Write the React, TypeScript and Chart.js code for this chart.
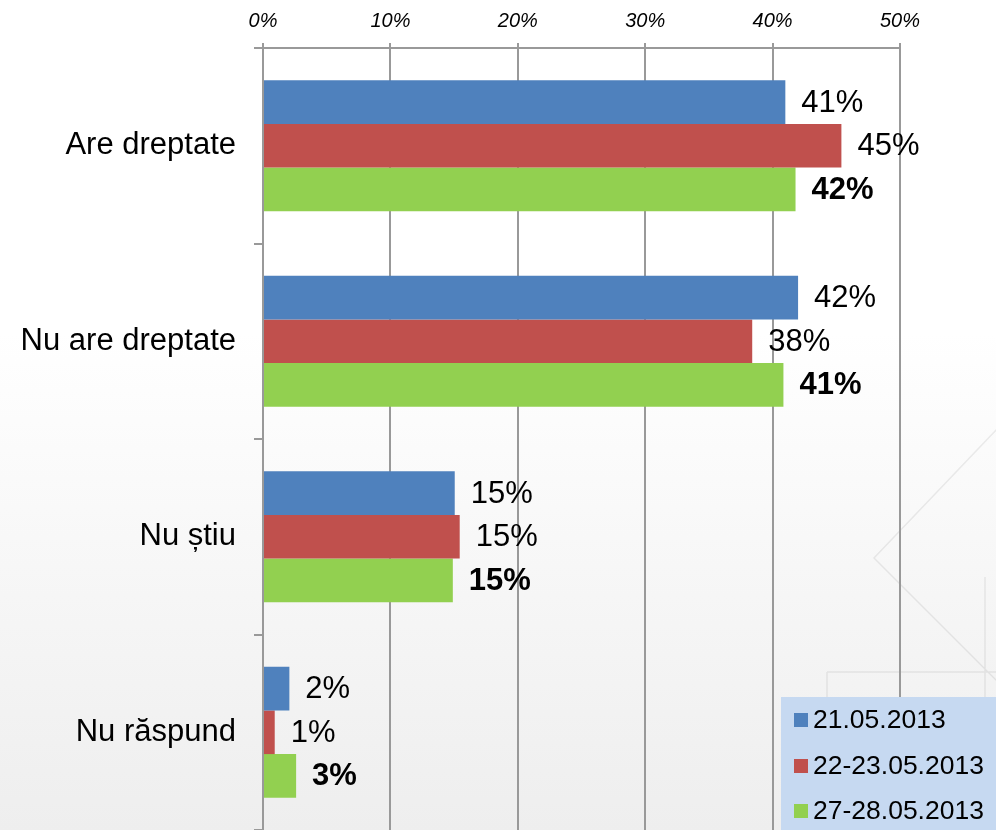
import React, { useEffect, useRef } from "react";
import { Chart, registerables } from "chart.js";

Chart.register(...registerables);

const categories = ["Are dreptate", "Nu are dreptate", "Nu știu", "Nu răspund"];
const seriesLabels = ["21.05.2013", "22-23.05.2013", "27-28.05.2013"];
const series1 = [41.0, 42.0, 15.05, 2.07];
const series2 = [45.4, 38.4, 15.44, 0.92];
const series3 = [41.8, 40.85, 14.9, 2.6];
const seriesColors = ["#4F81BD", "#C0504D", "#92D050"];
const xTicks = [0, 10, 20, 30, 40, 50];

const FONT = "'Liberation Sans', Arial, sans-serif";

const bgPlugin = {
  id: "bgPlugin",
  beforeDraw(chart: any) {
    const { ctx, width, height } = chart;
    ctx.save();
    const g = ctx.createLinearGradient(0, 0, 0, height);
    g.addColorStop(0, "#ffffff");
    g.addColorStop(0.4, "#ffffff");
    g.addColorStop(1, "#eeeeee");
    ctx.fillStyle = g;
    ctx.fillRect(0, 0, width, height);
    ctx.strokeStyle = "rgba(0,0,0,0.07)";
    ctx.lineWidth = 1.5;
    ctx.beginPath();
    ctx.moveTo(1000, 426);
    ctx.lineTo(874, 558);
    ctx.lineTo(1000, 684);
    ctx.moveTo(985, 577);
    ctx.lineTo(985, 830);
    ctx.moveTo(827, 672);
    ctx.lineTo(996, 672);
    ctx.moveTo(827, 672);
    ctx.lineTo(827, 830);
    ctx.stroke();
    ctx.restore();
  },
};

const labelPlugin = {
  id: "labelPlugin",
  afterDatasetsDraw(chart: any) {
    const { ctx } = chart;
    ctx.save();
    ctx.fillStyle = "#000";
    ctx.textAlign = "left";
    ctx.textBaseline = "middle";
    chart.data.datasets.forEach((ds: any, di: number) => {
      const meta = chart.getDatasetMeta(di);
      ctx.font = (di === 2 ? "bold " : "") + "31px " + FONT;
      meta.data.forEach((bar: any, i: number) => {
        const v = ds.data[i];
        ctx.fillText(Math.round(v) + "%", bar.x + 16, bar.y + 1);
      });
    });
    ctx.restore();
  },
};

const legendPlugin = {
  id: "legendPlugin",
  afterDraw(chart: any) {
    const { ctx } = chart;
    ctx.save();
    ctx.fillStyle = "#C6D9F1";
    ctx.fillRect(781, 697, 215, 140);
    ctx.font = "26.5px " + FONT;
    ctx.textAlign = "left";
    ctx.textBaseline = "middle";
    const rows = [720, 766, 811];
    chart.data.datasets.forEach((ds: any, di: number) => {
      const y = rows[di];
      ctx.fillStyle = ds.backgroundColor;
      ctx.fillRect(794, y - 7, 14, 14);
      ctx.fillStyle = "#000";
      ctx.fillText(ds.label, 813, y + 1);
    });
    ctx.restore();
  },
};

export default function App() {
  const ref = useRef<HTMLCanvasElement>(null);
  useEffect(() => {
    if (!ref.current) return;
    const datasets = [series1, series2, series3].map((d, i) => ({
      label: seriesLabels[i],
      data: d,
      backgroundColor: seriesColors[i],
      borderWidth: 0,
      categoryPercentage: 0.67,
      barPercentage: 1.0,
    }));
    const chart = new Chart(ref.current, {
      type: "bar",
      data: { labels: categories, datasets },
      plugins: [bgPlugin, labelPlugin, legendPlugin],
      options: {
        indexAxis: "y",
        responsive: false,
        animation: false,
        layout: { autoPadding: false, padding: { left: 0, right: 96, top: 0, bottom: -2 } },
        plugins: {
          legend: { display: false },
          tooltip: { enabled: false },
          title: { display: false },
        },
        scales: {
          x: {
            position: "top",
            min: 0,
            max: 50,
            afterBuildTicks: (scale: any) => {
              scale.ticks = xTicks.map((v) => ({ value: v }));
            },
            afterFit: (scale: any) => {
              scale.height = 48;
              scale.paddingLeft = 0;
              scale.paddingRight = 0;
              scale.paddingTop = 0;
              scale.paddingBottom = 0;
            },
            ticks: {
              callback: (v: any) => v + "%",
              color: "#000",
              font: { family: FONT, size: 20, style: "italic" },
              padding: 10,
              maxRotation: 0,
            },
            grid: {
              color: "#999999",
              lineWidth: 2,
              tickLength: 5,
              drawTicks: true,
            },
            border: { display: true, color: "#999999", width: 2 },
          },
          y: {
            afterFit: (scale: any) => {
              scale.width = 263;
              scale.paddingLeft = 0;
              scale.paddingRight = 0;
              scale.paddingTop = 0;
              scale.paddingBottom = 0;
            },
            ticks: {
              color: "#000",
              font: { family: FONT, size: 31 },
              padding: 18,
            },
            grid: {
              offset: true,
              drawOnChartArea: false,
              color: "#999999",
              lineWidth: 2,
              tickLength: 9,
            },
            border: { display: true, color: "#999999", width: 2 },
          },
        },
      },
    } as any);
    return () => chart.destroy();
  }, []);
  return (
    <div style={{ position: "fixed", left: 0, top: 0, width: 996, height: 830 }}>
      <canvas ref={ref} width={996} height={830} style={{ width: 996, height: 830, display: "block" }} />
    </div>
  );
}
